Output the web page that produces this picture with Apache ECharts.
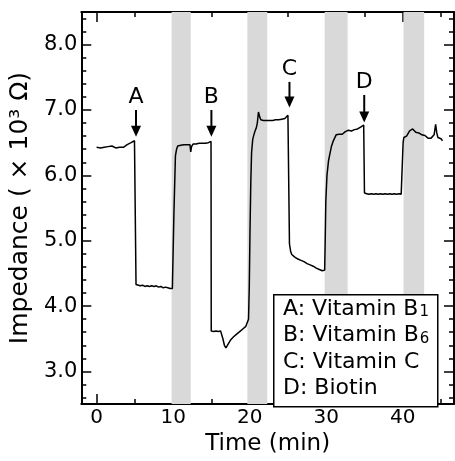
<!DOCTYPE html>
<html><head><meta charset="utf-8">
<script src="https://cdn.jsdelivr.net/npm/echarts@6/dist/echarts.min.js"></script>
<style>html,body{margin:0;padding:0;background:#fff}#c{width:455px;height:461px}</style>
</head><body><div id="c"></div>
<script>
const timeMin = [
0.0,0.25,0.5,0.75,1.0,1.25,1.5,1.75,2.0,2.25,2.5,2.75,3.0,3.25,3.5,3.75,4.0,4.25,4.5,4.75,4.95,5.12,5.15,
5.4,5.7,6.0,6.3,6.6,6.9,7.2,7.5,7.8,8.1,8.4,8.7,9.0,9.3,9.6,9.9,10.0,10.1,10.3,10.45,10.6,10.8,11.0,11.2,11.4,11.6,11.8,12.0,12.2,12.3,12.4,12.6,12.8,13.0,13.2,13.4,13.6,13.8,14.0,14.2,14.4,14.6,14.8,14.95,14.98,
15.3,15.6,15.9,16.2,16.35,16.5,16.7,16.9,17.1,17.3,17.5,17.7,17.9,18.1,18.3,18.5,18.7,18.9,19.1,19.3,19.5,19.7,19.85,19.95,20.05,20.15,20.25,20.4,20.55,20.7,20.85,21.0,21.15,21.3,21.45,21.6,21.8,22.0,22.2,22.4,22.6,22.8,23.0,23.2,23.4,23.6,23.8,24.0,24.2,24.4,24.6,24.8,25.0,25.15,25.2,
25.35,25.5,25.7,25.9,26.1,26.3,26.5,26.7,26.9,27.1,27.3,27.5,27.7,27.9,28.1,28.3,28.5,28.7,28.9,29.1,29.3,29.5,29.7,29.8,29.87,29.95,30.1,30.3,30.5,30.7,30.9,31.1,31.3,31.5,31.7,31.9,32.1,32.3,32.5,32.7,32.9,33.1,33.3,33.5,33.7,33.9,34.1,34.3,34.5,34.7,34.9,34.97,35.0,
35.3,35.6,35.9,36.2,36.5,36.8,37.1,37.4,37.7,38.0,38.3,38.6,38.9,39.2,39.5,39.8,39.95,40.05,40.15,40.3,40.5,40.7,40.9,41.1,41.3,41.5,41.7,41.9,42.1,42.3,42.5,42.7,42.9,43.1,43.3,43.5,43.7,43.9,44.1,44.3,44.45,44.6,44.8,45.0,45.2
];
const impedance = [
6.43,6.44,6.42,6.44,6.43,6.42,6.44,6.43,6.45,6.43,6.42,6.44,6.43,6.44,6.43,6.45,6.47,6.49,6.50,6.51,6.53,6.52,4.33,
4.32,4.31,4.32,4.30,4.31,4.30,4.31,4.30,4.31,4.29,4.30,4.28,4.29,4.28,4.27,4.27,4.30,5.40,6.30,6.40,6.45,6.44,6.46,6.45,6.47,6.46,6.47,6.46,6.47,6.36,6.44,6.48,6.47,6.48,6.47,6.49,6.48,6.49,6.48,6.49,6.48,6.50,6.49,6.52,3.62,
3.61,3.62,3.61,3.62,3.60,3.50,3.40,3.36,3.35,3.44,3.48,3.50,3.53,3.55,3.57,3.59,3.61,3.63,3.65,3.67,3.69,3.71,3.80,4.30,5.20,5.90,6.35,6.55,6.62,6.68,6.72,6.80,6.97,6.90,6.85,6.83,6.84,6.82,6.84,6.83,6.84,6.82,6.84,6.83,6.85,6.84,6.85,6.84,6.86,6.85,6.87,6.86,6.92,6.94,4.95,
4.84,4.79,4.77,4.75,4.74,4.72,4.72,4.70,4.69,4.68,4.66,4.65,4.64,4.63,4.61,4.61,4.59,4.58,4.57,4.56,4.55,4.54,4.53,4.55,5.00,5.60,6.00,6.22,6.34,6.45,6.52,6.57,6.62,6.60,6.63,6.65,6.63,6.66,6.67,6.65,6.69,6.70,6.68,6.71,6.70,6.72,6.71,6.73,6.74,6.73,6.77,6.77,5.73,
5.72,5.71,5.72,5.71,5.72,5.71,5.72,5.71,5.72,5.71,5.72,5.71,5.72,5.71,5.72,5.71,5.72,6.50,6.58,6.57,6.60,6.63,6.68,6.66,6.71,6.68,6.66,6.67,6.65,6.63,6.62,6.60,6.61,6.58,6.57,6.55,6.57,6.58,6.62,6.78,6.65,6.58,6.60,6.56,6.53
];
const bandStart = [9.8, 19.7, 29.8, 40.1];
const bandEnd = [12.3, 22.3, 32.8, 42.8];
const arrowLabels = ['A', 'B', 'C', 'D'];
const arrowTime = [5.15, 15.0, 25.2, 34.97];
const arrowTop = [7.0, 7.0, 7.43, 7.23];
const arrowTip = [6.59, 6.59, 7.04, 6.81];
const xMajorTicks = [0, 10, 20, 30, 40];
const xMinorTicks = [5, 15, 25, 35, 45];
const yMajorTicks = [3, 4, 5, 6, 7, 8];
const yMinorTicks = [2.6,2.8,3.2,3.4,3.6,3.8,4.2,4.4,4.6,4.8,5.2,5.4,5.6,5.8,6.2,6.4,6.6,6.8,7.2,7.4,7.6,7.8,8.2,8.4];
const legendMain = ['A: Vitamin B', 'B: Vitamin B', 'C: Vitamin C', 'D: Biotin'];
const legendSub = ['1', '6', '', ''];
const xTitle = 'Time (min)';
const yTitle = 'Impedance ( \u00d7 10\u00b3 \u03a9)';

const FF = 'DejaVu Sans';
const X_MIN = -2, X_MAX = 46.7, Y_MIN = 2.5, Y_MAX = 8.5;

function xAx(pos, ticks, len, lineShow, withLabels) {
  const a = {
    type: 'value', position: pos, min: X_MIN, max: X_MAX,
    axisLine: { show: lineShow, onZero: false, lineStyle: { color: '#000', width: 2 } },
    axisTick: { show: true, inside: true, length: len, customValues: ticks, lineStyle: { color: '#000', width: 1.5 } },
    axisLabel: { show: withLabels, customValues: ticks, color: '#000', fontSize: 20, fontFamily: FF, margin: 4 },
    splitLine: { show: false }
  };
  if (withLabels) {
    a.name = xTitle; a.nameLocation = 'middle'; a.nameGap = 24;
    a.nameTextStyle = { color: '#000', fontSize: 23, fontFamily: FF };
  }
  return a;
}
function yAx(pos, ticks, len, lineShow, withLabels) {
  const a = {
    type: 'value', position: pos, min: Y_MIN, max: Y_MAX,
    axisLine: { show: lineShow, onZero: false, lineStyle: { color: '#000', width: 2 } },
    axisTick: { show: true, inside: true, length: len, customValues: ticks, lineStyle: { color: '#000', width: 1.5 } },
    axisLabel: { show: withLabels, customValues: ticks, color: '#000', fontSize: 21, fontFamily: FF, margin: 4,
      formatter: v => v.toFixed(1) },
    splitLine: { show: false }
  };
  if (withLabels) {
    a.name = yTitle; a.nameLocation = 'middle'; a.nameGap = 39;
    a.nameTextStyle = { color: '#000', fontSize: 25, fontFamily: FF };
  }
  return a;
}

const lineData = timeMin.map((t, i) => [t, impedance[i]]);
const bandData = bandStart.map((s, i) => [s, bandEnd[i]]);
const arrowData = arrowTime.map((t, i) => [t, arrowTop[i], arrowTip[i]]);
const legendText = legendMain.map((m, i) => '{m|' + m + '}' + (legendSub[i] ? '{s|' + legendSub[i] + '}' : '')).join('\n');

const chart = echarts.init(document.getElementById('c'), null, { renderer: 'canvas' });
chart.setOption({
  animation: false,
  backgroundColor: '#fff',
  grid: { left: 77, right: 1, top: 12, bottom: 49 },
  xAxis: [
    xAx('bottom', xMajorTicks, 10, true, true),
    xAx('bottom', xMinorTicks, 5, false, false),
    xAx('top', xMajorTicks, 10, true, false),
    xAx('top', xMinorTicks, 5, false, false)
  ],
  yAxis: [
    yAx('left', yMajorTicks, 10, true, true),
    yAx('left', yMinorTicks, 5, false, false),
    yAx('right', yMajorTicks, 10, true, false),
    yAx('right', yMinorTicks, 5, false, false)
  ],
  series: [
    {
      type: 'custom', xAxisIndex: 0, yAxisIndex: 0, z: 1, silent: true,
      data: bandData,
      encode: { x: [0, 1] },
      renderItem: (params, api) => {
        const cs = params.coordSys;
        const a = api.coord([api.value(0), Y_MAX]);
        const b = api.coord([api.value(1), Y_MIN]);
        return { type: 'rect', shape: { x: a[0], y: cs.y, width: b[0] - a[0], height: cs.height },
          style: { fill: '#d9d9d9' } };
      }
    },
    {
      type: 'line', xAxisIndex: 0, yAxisIndex: 0, z: 3, data: lineData,
      showSymbol: false, symbol: 'none', silent: true,
      lineStyle: { color: '#000', width: 1.5 }
    },
    {
      type: 'custom', xAxisIndex: 0, yAxisIndex: 0, z: 4, silent: true,
      data: arrowData,
      encode: { x: 0, y: [1, 2] },
      renderItem: (params, api) => {
        const p1 = api.coord([api.value(0), api.value(1)]);
        const p2 = api.coord([api.value(0), api.value(2)]);
        const head = 11, hw = 5;
        return { type: 'group', children: [
          { type: 'line', shape: { x1: p1[0], y1: p1[1], x2: p2[0], y2: p2[1] - head + 1 },
            style: { stroke: '#000', lineWidth: 2 } },
          { type: 'polygon', shape: { points: [[p2[0] - hw, p2[1] - head], [p2[0] + hw, p2[1] - head], [p2[0], p2[1]]] },
            style: { fill: '#000' } },
          { type: 'text', x: p1[0], y: p1[1] - 13,
            style: { text: arrowLabels[params.dataIndex], fontSize: 22, fontFamily: FF, fill: '#000',
              align: 'center', verticalAlign: 'middle' } }
        ] };
      }
    }
  ],
  graphic: [
    { type: 'rect', left: 273, top: 294, z: 100, zlevel: 1, shape: { x: 0, y: 0, width: 164, height: 112 },
      style: { fill: '#fff', stroke: '#000', lineWidth: 1.5 } },
    { type: 'text', left: 283, top: 298, z: 101, zlevel: 1,
      style: { text: legendText, fill: '#000',
        rich: {
          m: { fontSize: 22, fontFamily: FF, lineHeight: 26.5, fill: '#000', verticalAlign: 'bottom' },
          s: { fontSize: 15, fontFamily: FF, lineHeight: 26.5, fill: '#000', verticalAlign: 'bottom', padding: [0, 0, 0, 1] }
        } } }
  ]
});
</script>
</body></html>
